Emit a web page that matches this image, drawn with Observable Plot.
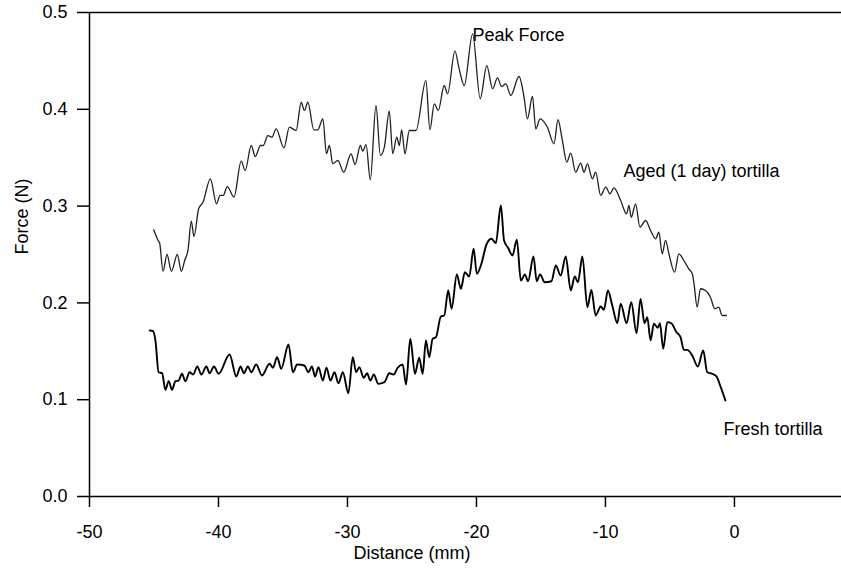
<!DOCTYPE html>
<html>
<head>
<meta charset="utf-8">
<script src="https://cdn.jsdelivr.net/npm/d3@7"></script>
<script src="https://cdn.jsdelivr.net/npm/@observablehq/plot@0.6"></script>
<style>
  html, body { margin: 0; padding: 0; background: white; }
</style>
</head>
<body>
<div id="chart"></div>
<script>
// Aged (1 day) tortilla: distance (mm), force (N)
const agedX = [-45.02,-44.68,-44.56,-44.30,-43.99,-43.65,-43.19,-42.88,-42.62,-42.36,-42.11,-41.90,-41.54,-41.20,-40.63,-40.15,-39.88,-39.63,-39.32,-38.80,-38.24,-37.93,-37.46,-37.15,-36.74,-36.53,-36.17,-35.86,-35.53,-34.93,-34.50,-33.98,-33.59,-33.34,-33.07,-32.61,-32.30,-31.91,-31.63,-31.40,-31.14,-30.75,-30.29,-29.72,-29.41,-29.00,-28.82,-28.56,-28.23,-27.79,-27.45,-27.14,-26.76,-26.49,-26.18,-25.98,-25.80,-25.54,-25.21,-24.69,-23.92,-23.61,-23.27,-22.96,-22.50,-22.24,-21.67,-21.34,-20.95,-20.30,-19.71,-19.20,-18.75,-18.37,-18.06,-17.72,-17.34,-16.70,-16.31,-16.05,-15.66,-15.40,-15.07,-14.50,-13.99,-13.68,-13.34,-13.00,-12.69,-12.31,-11.92,-11.66,-11.40,-11.01,-10.76,-10.37,-9.98,-9.65,-9.34,-8.82,-8.36,-8.18,-8.00,-7.66,-7.33,-6.89,-6.50,-6.11,-5.86,-5.60,-5.34,-5.08,-4.64,-4.31,-3.92,-3.54,-3.27,-3.15,-2.89,-2.63,-2.24,-1.86,-1.52,-1.22,-0.95,-0.62];
const agedY = [0.2755,0.2645,0.2617,0.2327,0.250,0.2327,0.250,0.2327,0.2438,0.2549,0.2844,0.2686,0.2972,0.304,0.3282,0.3024,0.311,0.311,0.3202,0.3092,0.3464,0.3368,0.3626,0.3512,0.3626,0.3626,0.3729,0.3712,0.3798,0.3602,0.3815,0.3781,0.4073,0.3988,0.4073,0.3788,0.3788,0.3902,0.354,0.3626,0.3437,0.3471,0.335,0.354,0.343,0.3626,0.3567,0.3636,0.3272,0.4039,0.3523,0.3609,0.398,0.354,0.3712,0.3626,0.3788,0.354,0.3781,0.3781,0.4298,0.3788,0.4057,0.3988,0.4246,0.416,0.46,0.4418,0.4246,0.478,0.4108,0.4452,0.4211,0.4325,0.4236,0.4263,0.4143,0.4339,0.4125,0.3902,0.4132,0.3798,0.3902,0.3815,0.3644,0.3892,0.3678,0.3454,0.3547,0.335,0.3443,0.335,0.3437,0.3282,0.335,0.311,0.3195,0.3127,0.3189,0.3058,0.292,0.3006,0.2885,0.3024,0.2782,0.2851,0.2748,0.2662,0.273,0.2507,0.2645,0.2507,0.2317,0.2507,0.2438,0.2352,0.2301,0.2214,0.1956,0.2146,0.2128,0.2059,0.1939,0.1956,0.187,0.187];

// Fresh tortilla: distance (mm), force (N)
const freshX = [-45.33,-45.07,-44.89,-44.64,-44.37,-44.12,-43.86,-43.60,-43.34,-43.09,-42.83,-42.57,-42.24,-41.97,-41.64,-41.33,-40.94,-40.69,-40.35,-39.99,-39.14,-38.62,-38.29,-38.03,-37.72,-37.46,-37.07,-36.63,-36.04,-35.78,-35.45,-35.14,-34.57,-34.23,-33.90,-33.34,-33.03,-32.76,-32.51,-32.25,-31.91,-31.63,-31.32,-31.01,-30.70,-30.36,-29.93,-29.59,-29.33,-29.08,-28.74,-28.48,-28.23,-27.96,-27.61,-27.14,-26.76,-26.42,-26.11,-25.72,-25.46,-25.13,-24.77,-24.44,-24.17,-23.92,-23.66,-23.40,-23.14,-22.76,-22.50,-22.19,-21.93,-21.52,-21.21,-20.90,-20.56,-20.22,-19.97,-19.66,-19.20,-18.83,-18.50,-18.11,-17.86,-17.55,-17.21,-16.87,-16.56,-16.25,-16.00,-15.58,-15.33,-15.07,-14.71,-14.19,-13.85,-13.47,-13.08,-12.69,-12.38,-12.13,-11.79,-11.40,-11.09,-10.76,-10.37,-10.12,-9.81,-9.47,-9.08,-8.82,-8.36,-8.00,-7.59,-7.28,-6.97,-6.76,-6.50,-6.25,-5.94,-5.78,-5.52,-5.21,-4.90,-4.49,-4.18,-3.92,-3.66,-3.27,-2.84,-2.42,-2.11,-1.73,-1.39,-1.08,-0.70];
const freshY = [0.1715,0.1708,0.1612,0.1284,0.1274,0.1102,0.1191,0.1102,0.1191,0.1198,0.1268,0.1191,0.1284,0.126,0.1343,0.126,0.1343,0.1274,0.1343,0.1268,0.1467,0.124,0.1343,0.1274,0.1343,0.1284,0.1364,0.125,0.1371,0.133,0.1439,0.1319,0.157,0.1284,0.1364,0.1353,0.1284,0.1343,0.124,0.1336,0.1198,0.133,0.1198,0.1284,0.117,0.1284,0.1067,0.1439,0.1284,0.1336,0.1226,0.1274,0.1198,0.126,0.1164,0.1181,0.1274,0.126,0.133,0.1364,0.1157,0.1629,0.1268,0.1433,0.1268,0.1612,0.1439,0.1629,0.1646,0.186,0.187,0.2128,0.1939,0.2293,0.2146,0.2317,0.2273,0.2559,0.2301,0.2386,0.2611,0.2662,0.2617,0.3006,0.2645,0.2569,0.249,0.2652,0.2231,0.2293,0.2224,0.2479,0.2224,0.2293,0.2214,0.2224,0.2386,0.2283,0.2479,0.2128,0.2273,0.2214,0.2479,0.1956,0.2135,0.187,0.1963,0.1929,0.2128,0.1973,0.179,0.1991,0.179,0.2007,0.1687,0.2042,0.179,0.1852,0.1612,0.1784,0.1743,0.179,0.1526,0.1801,0.179,0.1697,0.1646,0.1515,0.1515,0.1457,0.1343,0.1508,0.1284,0.1268,0.124,0.1136,0.0992];

const xTicks = [-50, -40, -30, -20, -10, 0];
const yTicks = [0.0, 0.1, 0.2, 0.3, 0.4, 0.5];
const xDomain = [-50, 8.3];
const yDomain = [0, 0.5];
const xTitle = "Distance (mm)";
const yTitle = "Force (N)";
const peakLabel = "Peak Force";
const agedLabel = "Aged (1 day) tortilla";
const freshLabel = "Fresh tortilla";
const agedLabelAt = [{x: -8.6, y: 0.336}];

const aged = agedX.map((x, i) => ({x, y: agedY[i]}));
const fresh = freshX.map((x, i) => ({x, y: freshY[i]}));
const peak = aged.reduce((a, b) => (b.y > a.y ? b : a));
const freshEnd = fresh[fresh.length - 1];

const chart = Plot.plot({
  width: 841,
  height: 569,
  marginLeft: 89,
  marginRight: 0,
  marginTop: 12,
  marginBottom: 73,
  style: {fontFamily: "'Liberation Sans', Arial, sans-serif", fontSize: "18px", color: "black", background: "white"},
  x: {domain: xDomain},
  y: {domain: yDomain},
  marks: [
    Plot.axisX({ticks: xTicks, tickSize: 11, tickPadding: 18, label: null, tickFormat: d => String(d).replace("−", "-"), stroke: "black", strokeWidth: 1.5}),
    Plot.axisY({ticks: yTicks, tickSize: 12, tickPadding: 10, label: null, tickFormat: d3.format(".1f"), stroke: "black", strokeWidth: 1.5}),
    Plot.ruleY([yDomain[0]], {stroke: "black", strokeWidth: 1.5}),
    Plot.ruleY([yDomain[1]], {stroke: "black", strokeWidth: 1.5}),
    Plot.ruleX([xDomain[0]], {stroke: "black", strokeWidth: 1.5}),
    Plot.line(aged, {x: "x", y: "y", curve: "monotone-x", stroke: "#222", strokeWidth: 1.3}),
    Plot.line(fresh, {x: "x", y: "y", curve: "monotone-x", stroke: "#000", strokeWidth: 1.9}),
    Plot.text([peak], {x: "x", y: "y", text: () => peakLabel, textAnchor: "start", dx: 0, dy: 1, fill: "black"}),
    Plot.text(agedLabelAt, {x: "x", y: "y", text: () => agedLabel, textAnchor: "start", fill: "black"}),
    Plot.text([freshEnd], {x: "x", y: "y", text: () => freshLabel, textAnchor: "start", dx: -2, dy: 29, fill: "black"}),
    Plot.text([xTitle], {x: d3.mean([xTicks[0], xTicks[xTicks.length - 1]]), frameAnchor: "bottom", dy: 62, text: d => d, fill: "black"}),
    Plot.text([yTitle], {frameAnchor: "left", rotate: -90, dx: -67, text: d => d, fill: "black"})
  ]
});
document.getElementById("chart").appendChild(chart);
</script>
</body>
</html>
